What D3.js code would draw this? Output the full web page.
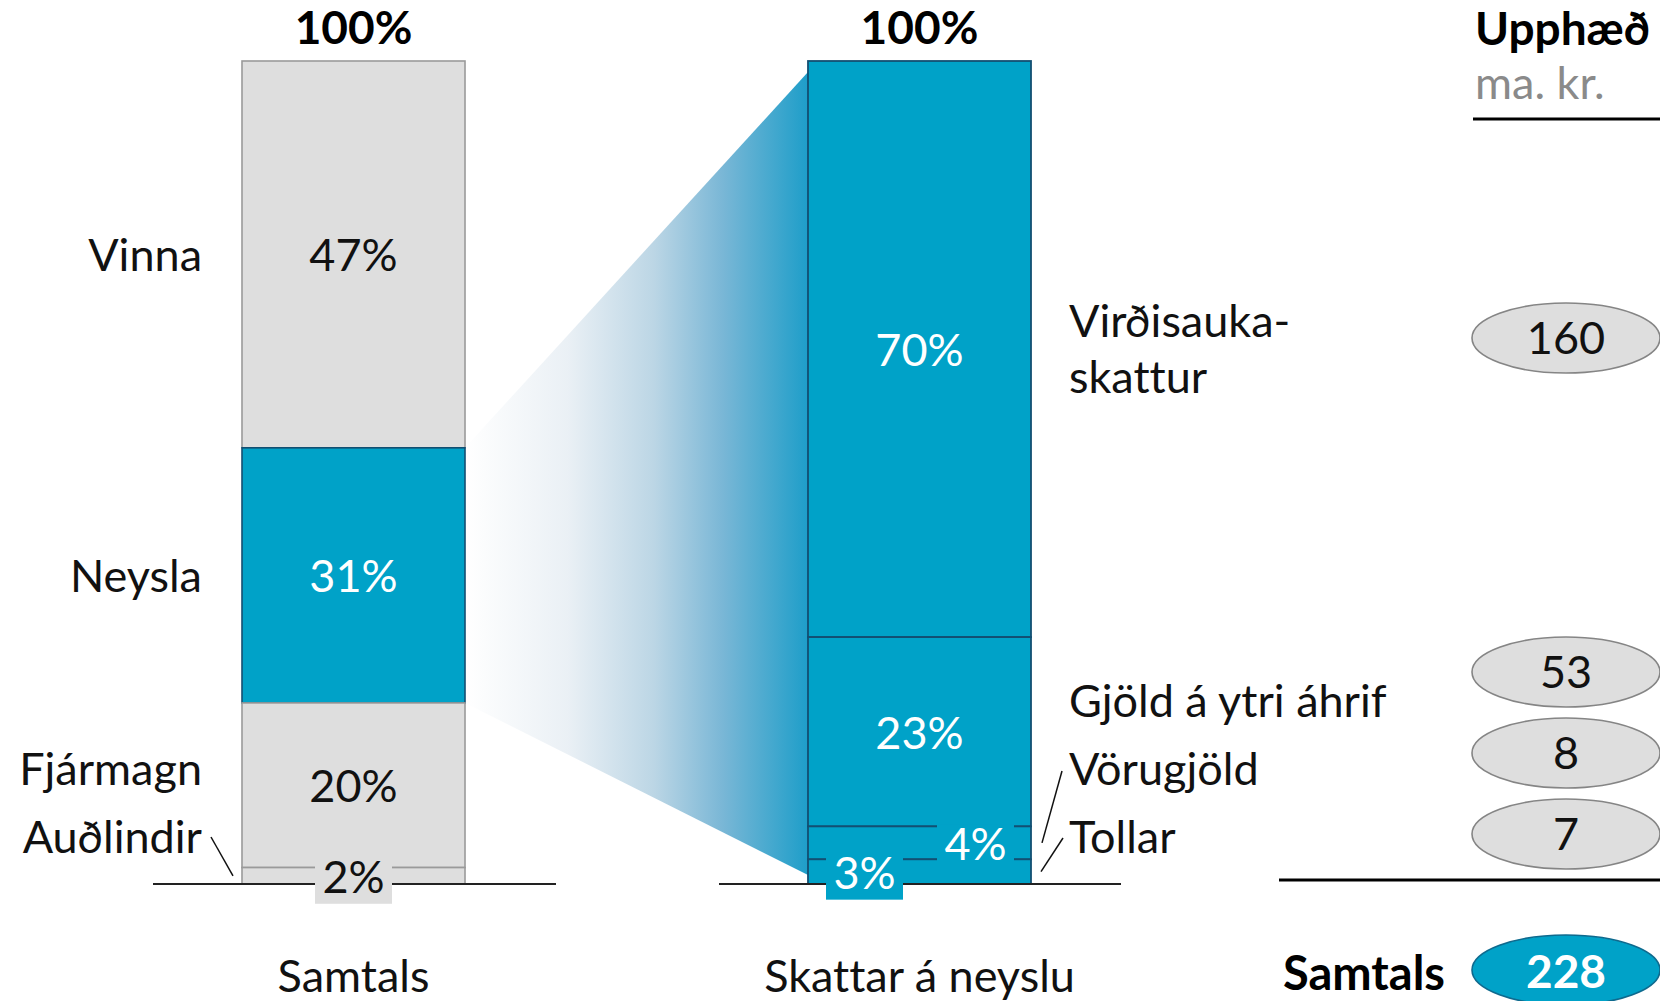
<!DOCTYPE html>
<html>
<head>
<meta charset="utf-8">
<script src="https://cdn.jsdelivr.net/npm/d3@7"></script>
<style>
  html, body { margin: 0; padding: 0; background: #fff; }
  svg { display: block; font-family: Lato, "Open Sans", sans-serif; font-variant-ligatures: none; font-feature-settings: "liga" 0, "dlig" 0; }
</style>
</head>
<body>
<div id="vis"></div>
<script>
// data
var totalCats = ["Vinna", "Neysla", "Fjármagn", "Auðlindir"];
var totalShares = [47, 31, 20, 2];
var taxCats = ["Virðisaukaskattur", "Gjöld á ytri áhrif", "Vörugjöld", "Tollar"];
var taxLines = [["Virðisauka-", "skattur"], ["Gjöld á ytri áhrif"], ["Vörugjöld"], ["Tollar"]];
var taxShares = [70, 23, 4, 3];
var amounts = [160, 53, 8, 7];
var totalAmount = 228;
var barNames = ["Samtals", "Skattar á neyslu"];
var topLabel = "100%";

var width = 1660, height = 1001;
var grey = "#dedede", greyStroke = "#9a9a9a";
var blue = "#00a2c8", blueStroke = "#134f72";
var fs = 45;

var svg = d3.select("#vis").append("svg")
  .attr("width", width)
  .attr("height", height);

var y = d3.scaleLinear().domain([0, 100]).range([884, 61]);
var x = d3.scaleBand().domain(barNames).range([242, 1031]).paddingInner(0.606);

function stack(vals) {
  var acc = 100;
  return vals.map(function(v) {
    var d = {top: acc, bottom: acc - v, value: v};
    acc -= v;
    return d;
  });
}
var leftStack = stack(totalShares);
var rightStack = stack(taxShares);

var x0 = x(barNames[0]), x1 = x(barNames[1]), bw = x.bandwidth();

////////// funnel //////////
var defs = svg.append("defs");
var grad = defs.append("linearGradient")
  .attr("id", "funnelGrad")
  .attr("gradientUnits", "userSpaceOnUse")
  .attr("x1", x0 + bw).attr("x2", x1).attr("y1", 0).attr("y2", 0);
[[0, "#ffffff"], [0.3, "#eaf0f5"], [0.55, "#bcd6e5"], [0.75, "#7ab7d6"], [1, "#1e9ec9"]]
  .forEach(function(s) { grad.append("stop").attr("offset", s[0]).attr("stop-color", s[1]); });

var ney = leftStack[1];
svg.append("path")
  .attr("d", d3.line()([
    [x0 + bw, y(ney.top)],
    [x1, y(100) + 11],
    [x1, y(0) - 9],
    [x0 + bw, y(ney.bottom)]
  ]) + "Z")
  .attr("fill", "url(#funnelGrad)");

////////// bars //////////
svg.selectAll(".segL")
  .data(leftStack)
  .enter().append("rect")
  .attr("class", "segL")
  .attr("x", x0)
  .attr("y", function(d) { return y(d.top); })
  .attr("width", bw)
  .attr("height", function(d) { return y(d.bottom) - y(d.top); })
  .attr("fill", function(d, i) { return i == 1 ? blue : grey; })
  .attr("stroke", function(d, i) { return i == 1 ? blueStroke : greyStroke; })
  .attr("stroke-width", 1.6);

svg.selectAll(".segR")
  .data(rightStack)
  .enter().append("rect")
  .attr("class", "segR")
  .attr("x", x1)
  .attr("y", function(d) { return y(d.top); })
  .attr("width", bw)
  .attr("height", function(d) { return y(d.bottom) - y(d.top); })
  .attr("fill", blue)
  .attr("stroke", blueStroke)
  .attr("stroke-width", 1.8);

// baselines
svg.append("line").attr("x1", 153).attr("x2", 556).attr("y1", y(0)).attr("y2", y(0))
  .attr("stroke", "#222").attr("stroke-width", 2);
svg.append("line").attr("x1", 719).attr("x2", 1121).attr("y1", y(0)).attr("y2", y(0))
  .attr("stroke", "#222").attr("stroke-width", 2);

////////// percent labels //////////
function mid(d) { return y((d.top + d.bottom) / 2); }

// small ones get a box so the lines break around them
var pctLeft = leftStack.map(function(d, i) {
  return {v: d.value, cx: x0 + bw / 2, by: mid(d) + 17, box: i == 3, fill: i == 1 ? blue : grey, col: i == 1 ? "#fff" : "#111"};
});
var pctRight = rightStack.map(function(d, i) {
  var off = i == 2 ? 56 : (i == 3 ? -55 : 0);
  return {v: d.value, cx: x1 + bw / 2 + off, by: mid(d) + 17, box: i >= 2, fill: blue, col: "#fff"};
});
var pcts = pctLeft.concat(pctRight);

svg.selectAll(".pctBox")
  .data(pcts.filter(function(d) { return d.box; }))
  .enter().append("rect")
  .attr("class", "pctBox")
  .attr("x", function(d) { return d.cx - 38.5; })
  .attr("y", function(d) { return d.v == 4 ? d.by - 35 : d.by - 38; })
  .attr("width", 77)
  .attr("height", function(d) { return d.v == 4 ? 40 : 49; })
  .attr("fill", function(d) { return d.fill; });

svg.selectAll(".pct")
  .data(pcts)
  .enter().append("text")
  .attr("class", "pct")
  .attr("x", function(d) { return d.cx; })
  .attr("y", function(d) { return d.by; })
  .attr("text-anchor", "middle")
  .attr("font-size", fs)
  .attr("fill", function(d) { return d.col; })
  .text(function(d) { return d.v + "%"; });

// 100% on top
svg.selectAll(".top")
  .data(barNames)
  .enter().append("text")
  .attr("x", function(d) { return x(d) + bw / 2; })
  .attr("y", 44)
  .attr("text-anchor", "middle")
  .attr("font-size", 46)
  .attr("font-weight", "bold")
  .text(topLabel);

// bar names below
svg.selectAll(".barName")
  .data(barNames)
  .enter().append("text")
  .attr("x", function(d) { return x(d) + bw / 2; })
  .attr("y", 992)
  .attr("text-anchor", "middle")
  .attr("font-size", fs)
  .attr("fill", "#111")
  .text(function(d) { return d; });

////////// category labels //////////
// big segments centred, small ones stacked up from the bottom
var step = 68, lowBase = y(0) - 31;
var leftY = [mid(leftStack[0]) + 17, mid(leftStack[1]) + 17, lowBase - step, lowBase];
svg.selectAll(".catL")
  .data(totalCats)
  .enter().append("text")
  .attr("x", x0 - 40)
  .attr("y", function(d, i) { return leftY[i]; })
  .attr("text-anchor", "end")
  .attr("font-size", fs)
  .attr("fill", "#111")
  .text(function(d) { return d; });

var rightY = [mid(rightStack[0]) - 12, lowBase - 2 * step, lowBase - step, lowBase];
var catR = svg.selectAll(".catR")
  .data(taxLines)
  .enter().append("text")
  .attr("x", x1 + bw + 38)
  .attr("y", function(d, i) { return rightY[i]; })
  .attr("font-size", fs)
  .attr("fill", "#111");
catR.selectAll("tspan")
  .data(function(d) { return d; })
  .enter().append("tspan")
  .attr("x", x1 + bw + 38)
  .attr("dy", function(d, i) { return i == 0 ? 0 : 56; })
  .text(function(d) { return d; });

// leader lines
var leaders = [
  [[x0 - 31, lowBase - 16], [x0 - 9, y(1)]],
  [[x1 + bw + 31, lowBase - step - 14], [x1 + bw + 11, y(5)]],
  [[x1 + bw + 32, lowBase - 15], [x1 + bw + 10, y(1.5)]]
];
svg.selectAll(".leader")
  .data(leaders)
  .enter().append("path")
  .attr("d", function(d) { return d3.line()(d); })
  .attr("stroke", "#111")
  .attr("stroke-width", 1.5)
  .attr("fill", "none");

////////// amounts column //////////
var colX = 1475, ecx = 1566, rx = 94, ry = 35;
svg.append("text").attr("x", colX).attr("y", 45)
  .attr("font-size", 46).attr("font-weight", "bold").text("Upphæð");
svg.append("text").attr("x", colX).attr("y", 99)
  .attr("font-size", fs).attr("fill", "#8a8a8a").text("ma. kr.");
svg.append("line").attr("x1", 1473).attr("x2", width).attr("y1", 119).attr("y2", 119)
  .attr("stroke", "#000").attr("stroke-width", 3);

var ellY = [mid(rightStack[0]) - 11, y(0) - 50 - 2 * 81, y(0) - 50 - 81, y(0) - 50];
var amt = svg.selectAll(".amt")
  .data(amounts)
  .enter().append("g")
  .attr("transform", function(d, i) { return "translate(" + ecx + "," + ellY[i] + ")"; });
amt.append("ellipse")
  .attr("rx", rx).attr("ry", ry)
  .attr("fill", grey).attr("stroke", "#858585").attr("stroke-width", 1.6);
amt.append("text")
  .attr("y", 16)
  .attr("text-anchor", "middle")
  .attr("font-size", fs)
  .attr("fill", "#111")
  .text(function(d) { return d; });

svg.append("line").attr("x1", 1279).attr("x2", width).attr("y1", 880).attr("y2", 880)
  .attr("stroke", "#000").attr("stroke-width", 3);

svg.append("text").attr("x", 1445).attr("y", 990)
  .attr("text-anchor", "end").attr("font-size", 47).attr("font-weight", "bold")
  .text("Samtals");
var tot = svg.append("g").attr("transform", "translate(" + ecx + ",970)");
tot.append("ellipse").attr("rx", rx).attr("ry", ry)
  .attr("fill", blue).attr("stroke", "#0e6a8e").attr("stroke-width", 1.6);
tot.append("text").attr("y", 18).attr("text-anchor", "middle")
  .attr("font-size", 46).attr("font-weight", "bold").attr("fill", "#fff")
  .text(totalAmount);
</script>
</body>
</html>
